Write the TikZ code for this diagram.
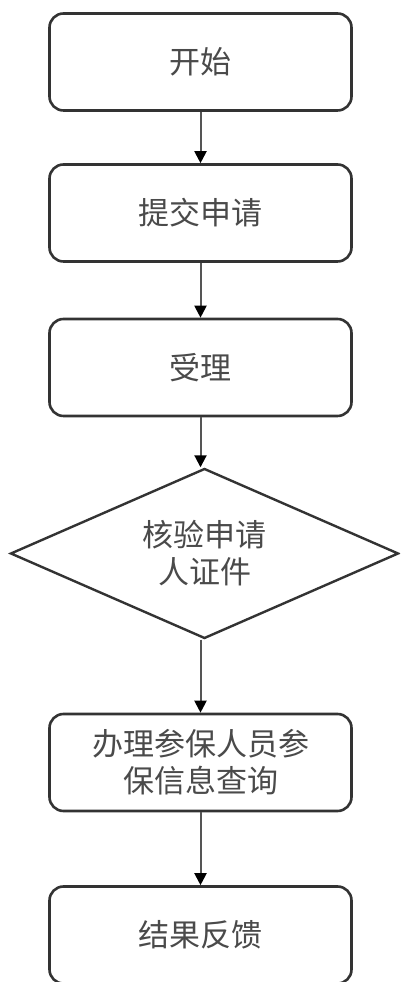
\documentclass[tikz,border=0pt]{standalone}
\usepackage{fontspec}
\newfontfamily\cjk{Noto Sans CJK SC}
\usetikzlibrary{shapes.geometric,arrows.meta}
\definecolor{edge}{HTML}{333333}
\definecolor{txt}{HTML}{4A4A4A}
\definecolor{line}{HTML}{555555}
\begin{document}
\begin{tikzpicture}[x=1pt, y=1pt]

\tikzstyle{every node} = [text=txt, font=\cjk\fontsize{31}{37}\selectfont, align=center]
\tikzstyle{stepbox} = [rectangle, rounded corners=14pt, draw=edge, line width=2.6pt, fill=white, minimum width=302pt, minimum height=97pt, inner sep=0pt]
\tikzstyle{check} = [diamond, aspect=2.26, draw=edge, line width=2.4pt, fill=white, minimum width=388pt, minimum height=170pt, inner sep=0pt]
\tikzstyle{flow} = [draw=line, line width=2pt, -{Triangle[length=12pt, width=12pt, fill=black, color=black]}]

\clip (0,0) rectangle (400,982);
\fill[white] (0,0) rectangle (400,982);

\node[stepbox] (start) at (200.5,920) {开始};
\node[stepbox] (submit) at (200.5,769) {提交申请};
\node[stepbox] (accept) at (200.5,614.5) {受理};
\node[check] (verify) at (204.5,428.5) {核验申请\\人证件};
\node[stepbox] (query) at (200.5,219.5) {办理参保人员参\\保信息查询};
\node[stepbox] (result) at (200.5,47) {结果反馈};

\draw[flow] (start) -- (submit);
\draw[flow] (submit) -- (accept);
\draw[flow] (accept.south) -- (accept.south |- verify.north);
\draw[flow] (query.north |- verify.south) -- (query.north);
\draw[flow] (query) -- (result);
\end{tikzpicture}
\end{document}
